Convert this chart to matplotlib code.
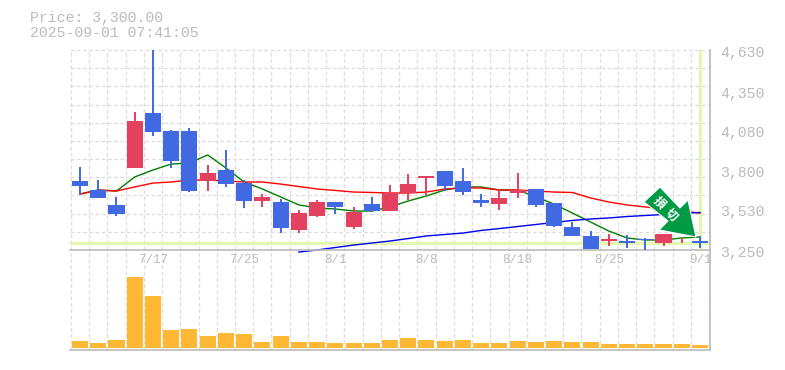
import matplotlib
matplotlib.use("Agg")
import matplotlib.pyplot as plt
from matplotlib.patches import Polygon
import numpy as np

TITLE = ["Price: 3,300.00", "2025-09-01 07:41:05"]
LAST_PRICE = 3300

open_p = [3726, 3664, 3561, 3816, 4195, 4071, 4071, 3726, 3802, 3712, 3588, 3581,
          3388, 3485, 3581, 3409, 3567, 3519, 3643, 3747, 3795, 3726, 3595, 3567,
          3643, 3671, 3574, 3409, 3347, 3312, 3312, 3326, 3298, 3312, 3312]
close_p = [3692, 3609, 3498, 4140, 4064, 3864, 3657, 3781, 3705, 3588, 3616, 3402,
           3505, 3581, 3547, 3512, 3519, 3643, 3705, 3761, 3692, 3650, 3574, 3609,
           3664, 3561, 3416, 3347, 3257, 3326, 3298, 3319, 3360, 3312, 3298]
high_p = [3823, 3733, 3616, 4202, 4700, 4078, 4092, 3837, 3940, 3733, 3636, 3602,
          3526, 3595, 3581, 3547, 3616, 3699, 3774, 3761, 3795, 3816, 3636, 3664,
          3781, 3671, 3574, 3443, 3381, 3360, 3354, 3333, 3360, 3333, 3347]
low_p = [3630, 3609, 3485, 3816, 4037, 3816, 3650, 3657, 3685, 3540, 3547, 3367,
         3367, 3478, 3498, 3395, 3512, 3519, 3595, 3630, 3657, 3630, 3547, 3526,
         3609, 3547, 3409, 3347, 3257, 3278, 3264, 3250, 3278, 3298, 3264]

ma_short = [3636, 3664, 3657, 3754, 3802, 3843, 3850, 3906, 3816, 3719, 3671, 3616,
            3561, 3540, 3533, 3519, 3519, 3547, 3588, 3623, 3664, 3685, 3685, 3664,
            3664, 3616, 3567, 3505, 3443, 3381, 3333, 3319, 3319, 3333, 3340]
ma_mid = [3636, 3664, 3657, 3685, 3712, 3719, 3733, 3733, 3726, 3719, 3719, 3705,
          3688, 3671, 3661, 3650, 3647, 3643, 3643, 3650, 3671, 3678, 3678, 3664,
          3664, 3657, 3650, 3647, 3609, 3581, 3561, 3547, 3533, 3519, 3505]
ma_long = [3236, 3250, 3267, 3284, 3298, 3312, 3329, 3347, 3357, 3367, 3385, 3398,
           3412, 3426, 3440, 3454, 3464, 3471, 3481, 3488, 3495, 3502, 3509]
MA_LONG_START = 12

volume = [7, 5, 8, 71, 52, 18, 19, 12, 15, 14, 6, 12, 6, 6, 5, 5, 5, 8, 10, 8, 7, 8,
          5, 5, 7, 6, 7, 6, 6, 4, 4, 4, 4, 4, 3]

price_ticks = [3250, 3530, 3800, 4080, 4350, 4630]
date_idx = [4, 9, 14, 19, 24, 29, 34]
date_labels = ["7/17", "7/25", "8/1", "8/8", "8/18", "8/25", "9/1"]

# arrow badge, in picture pixels
arrow_px = [(660, 187), (680, 208), (688, 200), (696, 237), (659, 230), (668, 221), (644, 202)]

W, H = 785, 370
LEFT, RIGHT = 70, 710
GREY = "#BBBBBB"
GRID = "#DDDDDD"
RED = "#E2415F"
BLUE = "#4169E1"
MONO = "Liberation Mono"


def px_axes(fig, top, bottom):
    return fig.add_axes([LEFT / W, 1 - bottom / H, (RIGHT - LEFT) / W, (bottom - top) / H],
                        facecolor="none")


def style_axes(ax):
    n = len(open_p)
    ax.set_xlim(-0.55, n - 0.45)
    ax.set_xticks([])
    ax.set_yticks([])
    for side in ["top", "left"]:
        ax.spines[side].set_visible(False)
    for side in ["right", "bottom"]:
        ax.spines[side].set_color(GREY)
        ax.spines[side].set_linewidth(1.2)
    for i in range(n + 1):
        ax.axvline(i - 0.5, color=GRID, lw=0.9, ls=(0, (3, 2)), zorder=0, clip_on=False)


fig = plt.figure(figsize=(W / 100, H / 100), dpi=100)
ax_vol = px_axes(fig, 250, 350)
ax = px_axes(fig, 50, 250)
style_axes(ax)
style_axes(ax_vol)

# price panel
ax.set_ylim(3250, 4630)
for y in np.linspace(3250, 4630, 12)[1:]:
    ax.axhline(y, color=GRID, lw=0.9, ls=(0, (3, 2)), zorder=0, clip_on=False)

x = np.arange(len(open_p))
ax.axhline(LAST_PRICE, color="#E4F7B0", lw=2.4, zorder=1)
ax.axvline(x[-1], color="#E4F7B0", lw=2.4, zorder=1)

ax.plot(x, ma_short, color="#007F00", lw=1.0, zorder=2)
ax.plot(x, ma_mid, color="#FF0000", lw=1.0, zorder=2)
ax.plot(x[MA_LONG_START:], ma_long, color="#0000EE", lw=1.0, zorder=2, clip_on=False)

colors = [RED if c >= o else BLUE for o, c in zip(open_p, close_p)]
ax.vlines(x, low_p, high_p, colors=colors, lw=1.4, zorder=3)
bottoms = np.minimum(open_p, close_p)
heights = np.abs(np.array(close_p) - np.array(open_p))
ax.bar(x, heights, 0.88, bottom=bottoms, color=colors, zorder=3)

for p in price_ticks:
    ax.annotate(f"{p:,}", xy=(1, p), xycoords=ax.get_yaxis_transform(),
                xytext=(7.2, -2.2), textcoords="offset points",
                ha="left", va="center", color=GREY, fontsize=10.75, family=MONO)

for i, lab in zip(date_idx, date_labels):
    ax.annotate(lab, xy=(i, 3250), xycoords="data", xytext=(0, -7.5),
                textcoords="offset points", ha="center", va="center",
                color=GREY, fontsize=9, family=MONO)

# volume panel
ax_vol.set_ylim(-2, 98)
ax_vol.bar(x, volume, 0.88, color="#FFB833", zorder=3)

# header
fig.text(30 / W, 1 - 18 / H, TITLE[0], color=GREY, fontsize=10.75, family=MONO, va="center")
fig.text(30 / W, 1 - 33 / H, TITLE[1], color=GREY, fontsize=10.75, family=MONO, va="center")

# sell-signal arrow on top of everything
over = fig.add_axes([0, 0, 1, 1], facecolor="none")
over.set_xlim(0, W)
over.set_ylim(H, 0)
over.axis("off")
over.add_patch(Polygon(arrow_px, closed=True, facecolor="#009944", edgecolor="white", lw=0.8))
for ch, cx, cy in [("損", 659, 203), ("切", 671, 215)]:
    over.text(cx, cy, ch, color="white", fontsize=8.5, fontweight="bold",
              family="Noto Sans CJK JP", rotation=-45, ha="center", va="center",
              rotation_mode="anchor")

fig.savefig("out.png", dpi=100)
